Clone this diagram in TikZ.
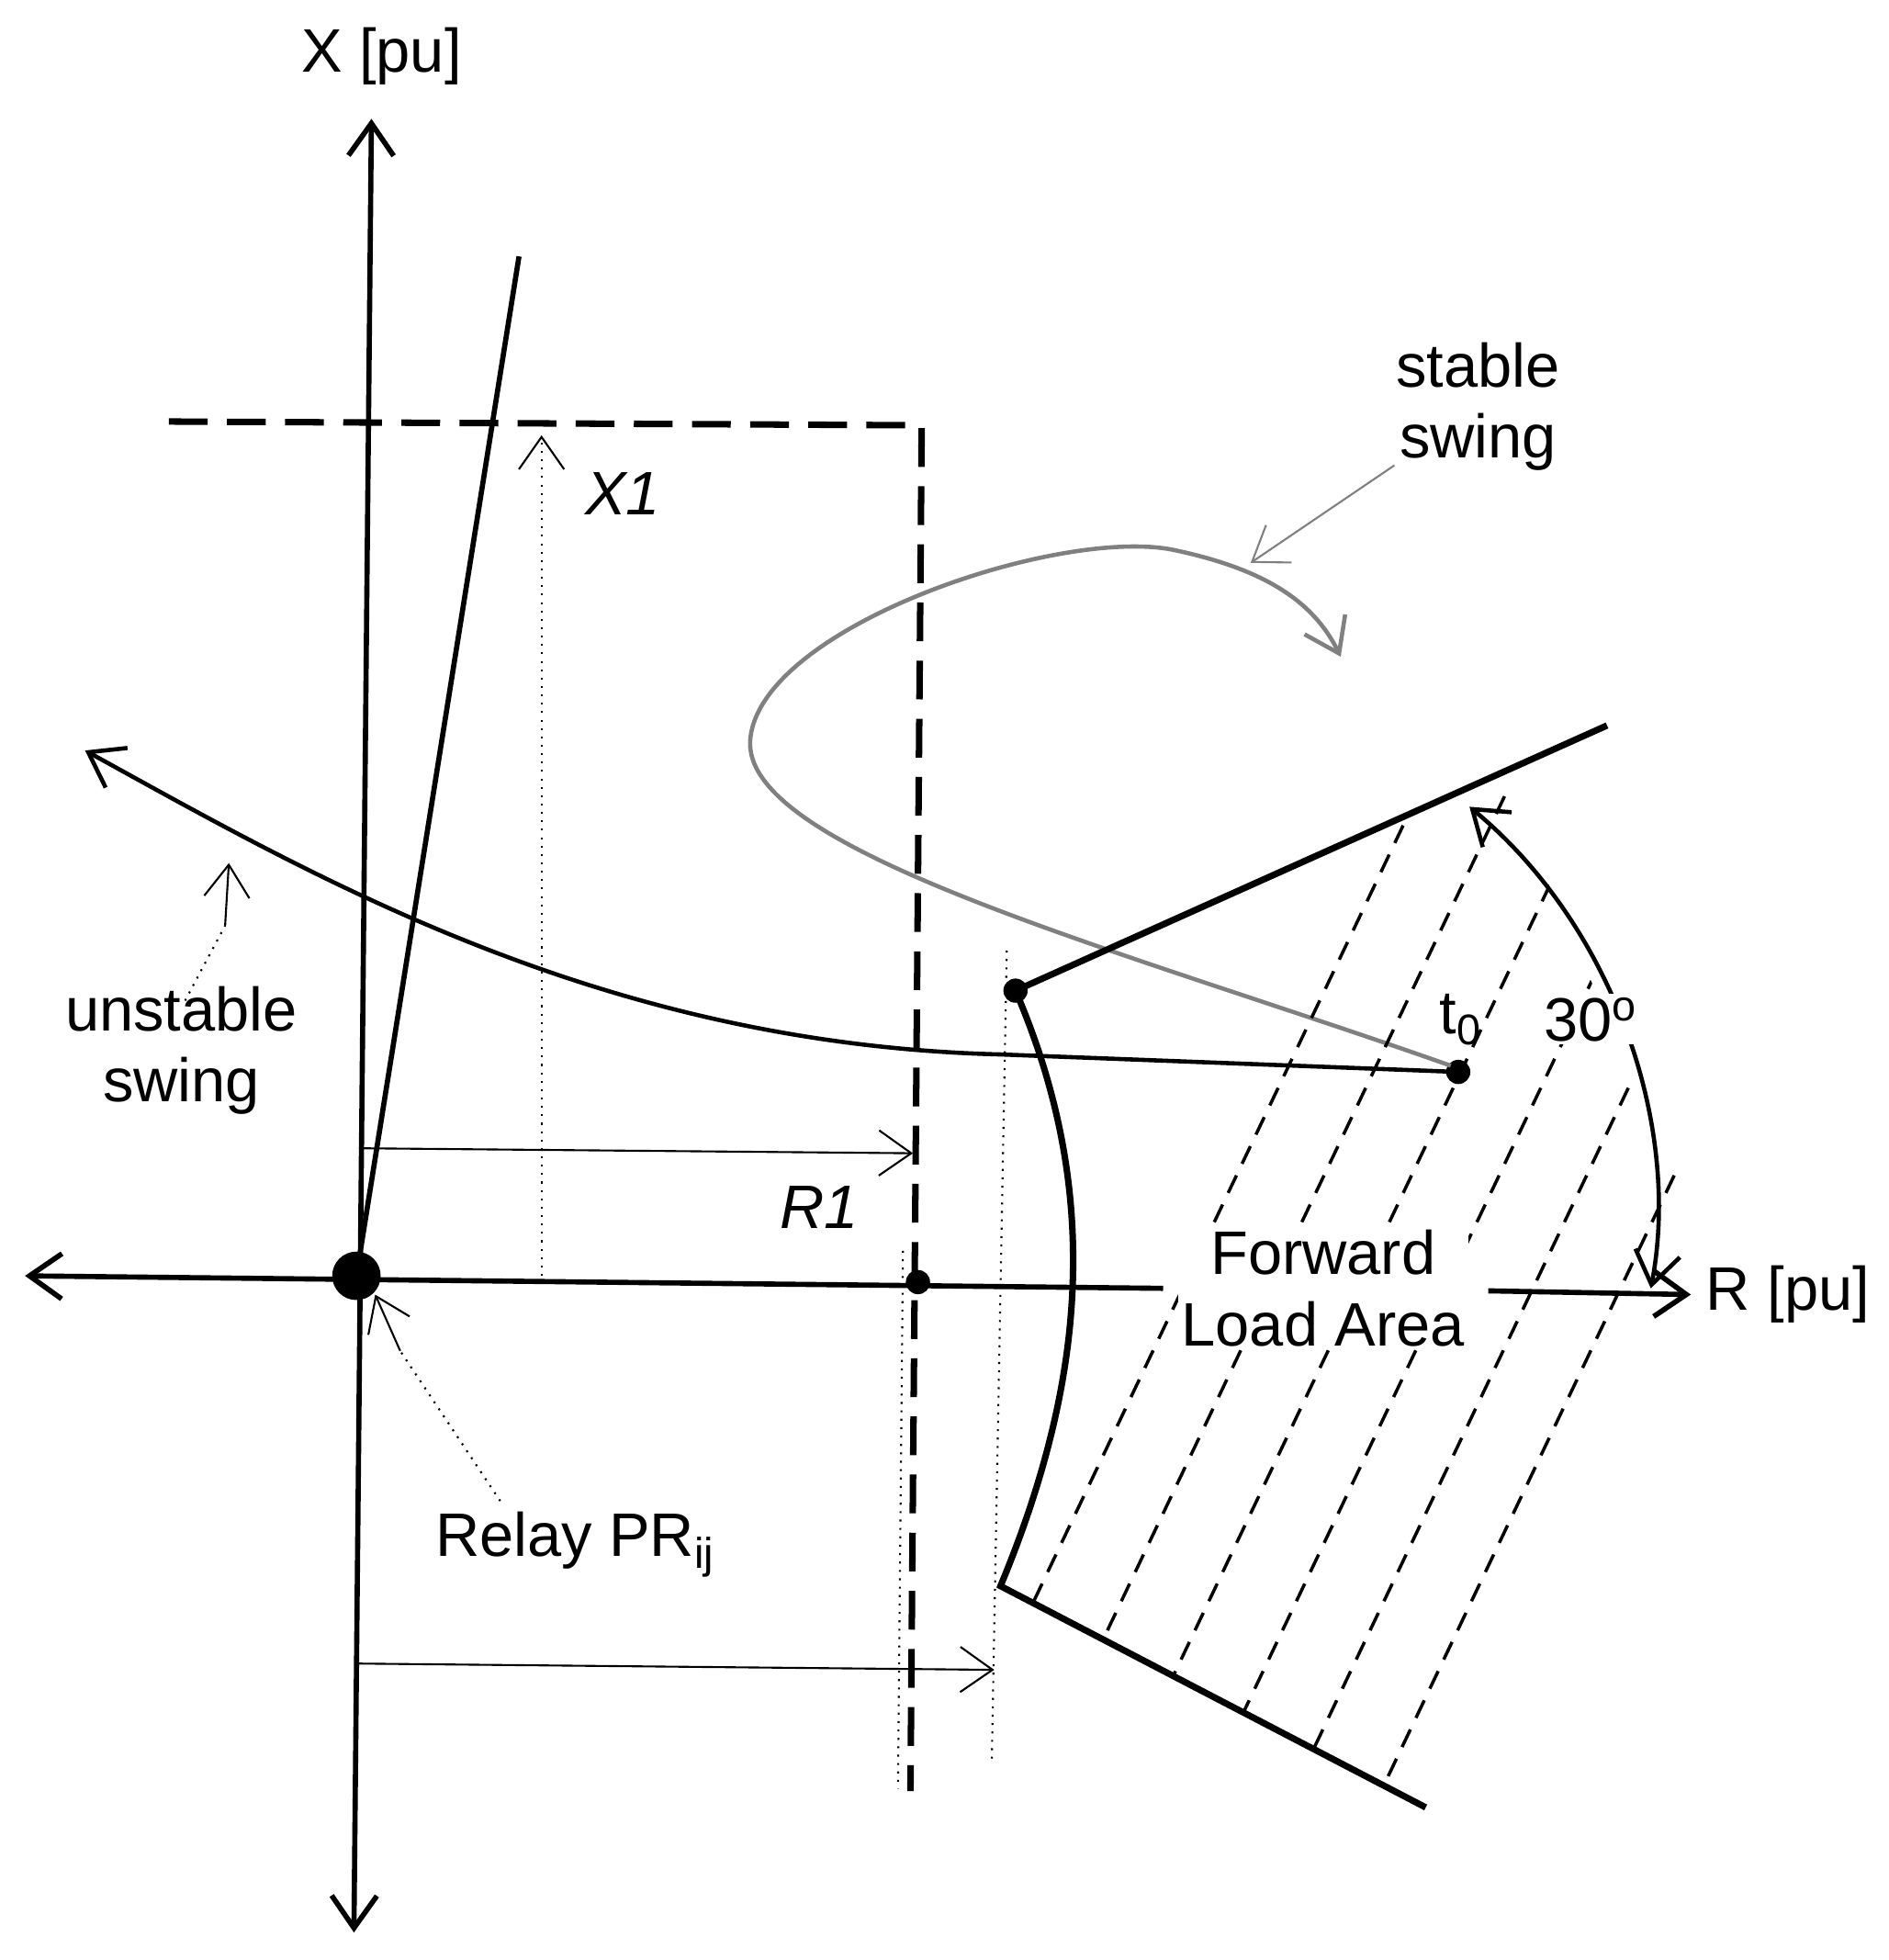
\documentclass[tikz,border=0pt]{standalone}
\usepackage{fontspec}
\setmainfont{Liberation Sans}
\usetikzlibrary{arrows.meta}
\begin{document}
\begin{tikzpicture}[x=0.013616cm,y=-0.013616cm,
  ax/.style={line width=1.6pt},
  oa/.style={-{Straight Barb[length=10pt,width=14pt]}},
  thin/.style={line width=0.6pt},
  lbl/.style={font=\fontsize{19}{22}\selectfont},
  dotc/.style={circle,fill=black,inner sep=0pt,minimum size=#1}]
\useasboundingbox (0,0) rectangle (1510,1567);
% axes
\node[dotc=15pt] (O) at (285,1020) {};
\coordinate (Xt) at (297,95); \coordinate (Xb) at (283,1545);
\draw[ax,{Straight Barb[length=10pt,width=14pt]}-{Straight Barb[length=10pt,width=14pt]}] (Xb) -- (Xt);
\node[lbl] (Xl) at (305,45) {X [pu]};
\coordinate (Rl0) at (20,1020); \coordinate (Ra) at (930,1030);
\draw[ax,{Straight Barb[length=10pt,width=14pt]}-] (Rl0) -- (Ra);
\coordinate (Rb) at (1190,1032); \coordinate (Re) at (1352,1035);
\draw[ax,oa] (Rb) -- (Re);
\node[lbl,anchor=west] (Rlab) at (1355,1035) {R [pu]};
% steep line
\coordinate (S) at (415,205);
\draw[ax] (O.center) -- (S);
% dashed rectangle
\draw[line width=2pt,dash pattern=on 12pt off 6pt] (135,337) -- (737,340) -- (728,1432);
% X1
\draw[thin,dotted,oa] (433,1020) -- (433,348);
\node[lbl,font=\fontsize{19}{22}\selectfont\itshape] (x1) at (498,395) {X1};
% R1
\draw[thin,oa] (287,918) -- (730,922);
\node[lbl,font=\fontsize{19}{22}\selectfont\itshape] (r1) at (655,965) {R1};
\node[dotc=7.5pt] (d2) at (734,1025) {};
% lower arrow
\draw[thin,oa] (287,1330) -- (795,1335);
\draw[thin,dotted] (805,760) -- (793,1410);
\draw[thin,dotted] (722,1000) -- (718,1430);
% unstable swing
\node[dotc=7.5pt] (t0) at (1166,857) {};
\node[lbl] (t0l) at (1168,815) {t\textsubscript{0}};
\draw[line width=1.3pt,{Straight Barb[length=10pt,width=14pt]}-] (68,600) .. controls (250,700) and (480,835) .. (800,843) -- (t0.center);
\draw[thin,oa] (180,740) -- (183,690);
\draw[thin,dotted] (148,800) -- (180,740);
\node[lbl,align=center] (us) at (145,840) {unstable\\swing};
% stable swing
\draw[line width=1.3pt,gray,oa] (1160,852) .. controls (900,760) and (590,680) .. (600,590) .. controls (610,500) and (850,420) .. (940,440) .. controls (1010,455) and (1050,480) .. (1072,525);
\node[lbl,align=center] (ss) at (1182,325) {stable\\swing};
\draw[thin,gray,oa] (1115,372) -- (1000,450);
% load area
\node[dotc=7.5pt] (P) at (812,792) {};
\coordinate (T) at (1285,580); \coordinate (B) at (800,1268); \coordinate (Bt) at (1140,1445);
\draw[line width=2pt] (T) -- (P.center) .. controls (880,950) and (870,1100) .. (B) -- (Bt);
\begin{scope}
\clip (P.center) -- (1200,620) -- (1345,950) -- (1300,1150) -- (1140,1445) -- (B) .. controls (870,1100) and (880,950) .. (P.center);
\foreach \s in {0,...,9}
  \draw[line width=1pt,dash pattern=on 6pt off 4pt] (760+\s*70,1420) -- ++(420,-882);
\end{scope}
\node[lbl,align=center,fill=white,inner sep=1pt] (fla) at (1058,1030) {Forward\\Load Area};
% 30 deg
\draw[line width=1.3pt,{Straight Barb[length=10pt,width=14pt]}-{Straight Barb[length=10pt,width=14pt]}] (1175,645) .. controls (1290,740) and (1345,900) .. (1320,1030);
\node[lbl,fill=white,inner sep=1pt] (ang) at (1272,815) {30\textsuperscript{o}};
% relay
\node[lbl] (relay) at (460,1235) {Relay PR\textsubscript{ij}};
\draw[thin,dotted] (400,1200) -- (320,1080);
\draw[thin,oa] (320,1080) -- (300,1035);
\end{tikzpicture}
\end{document}
